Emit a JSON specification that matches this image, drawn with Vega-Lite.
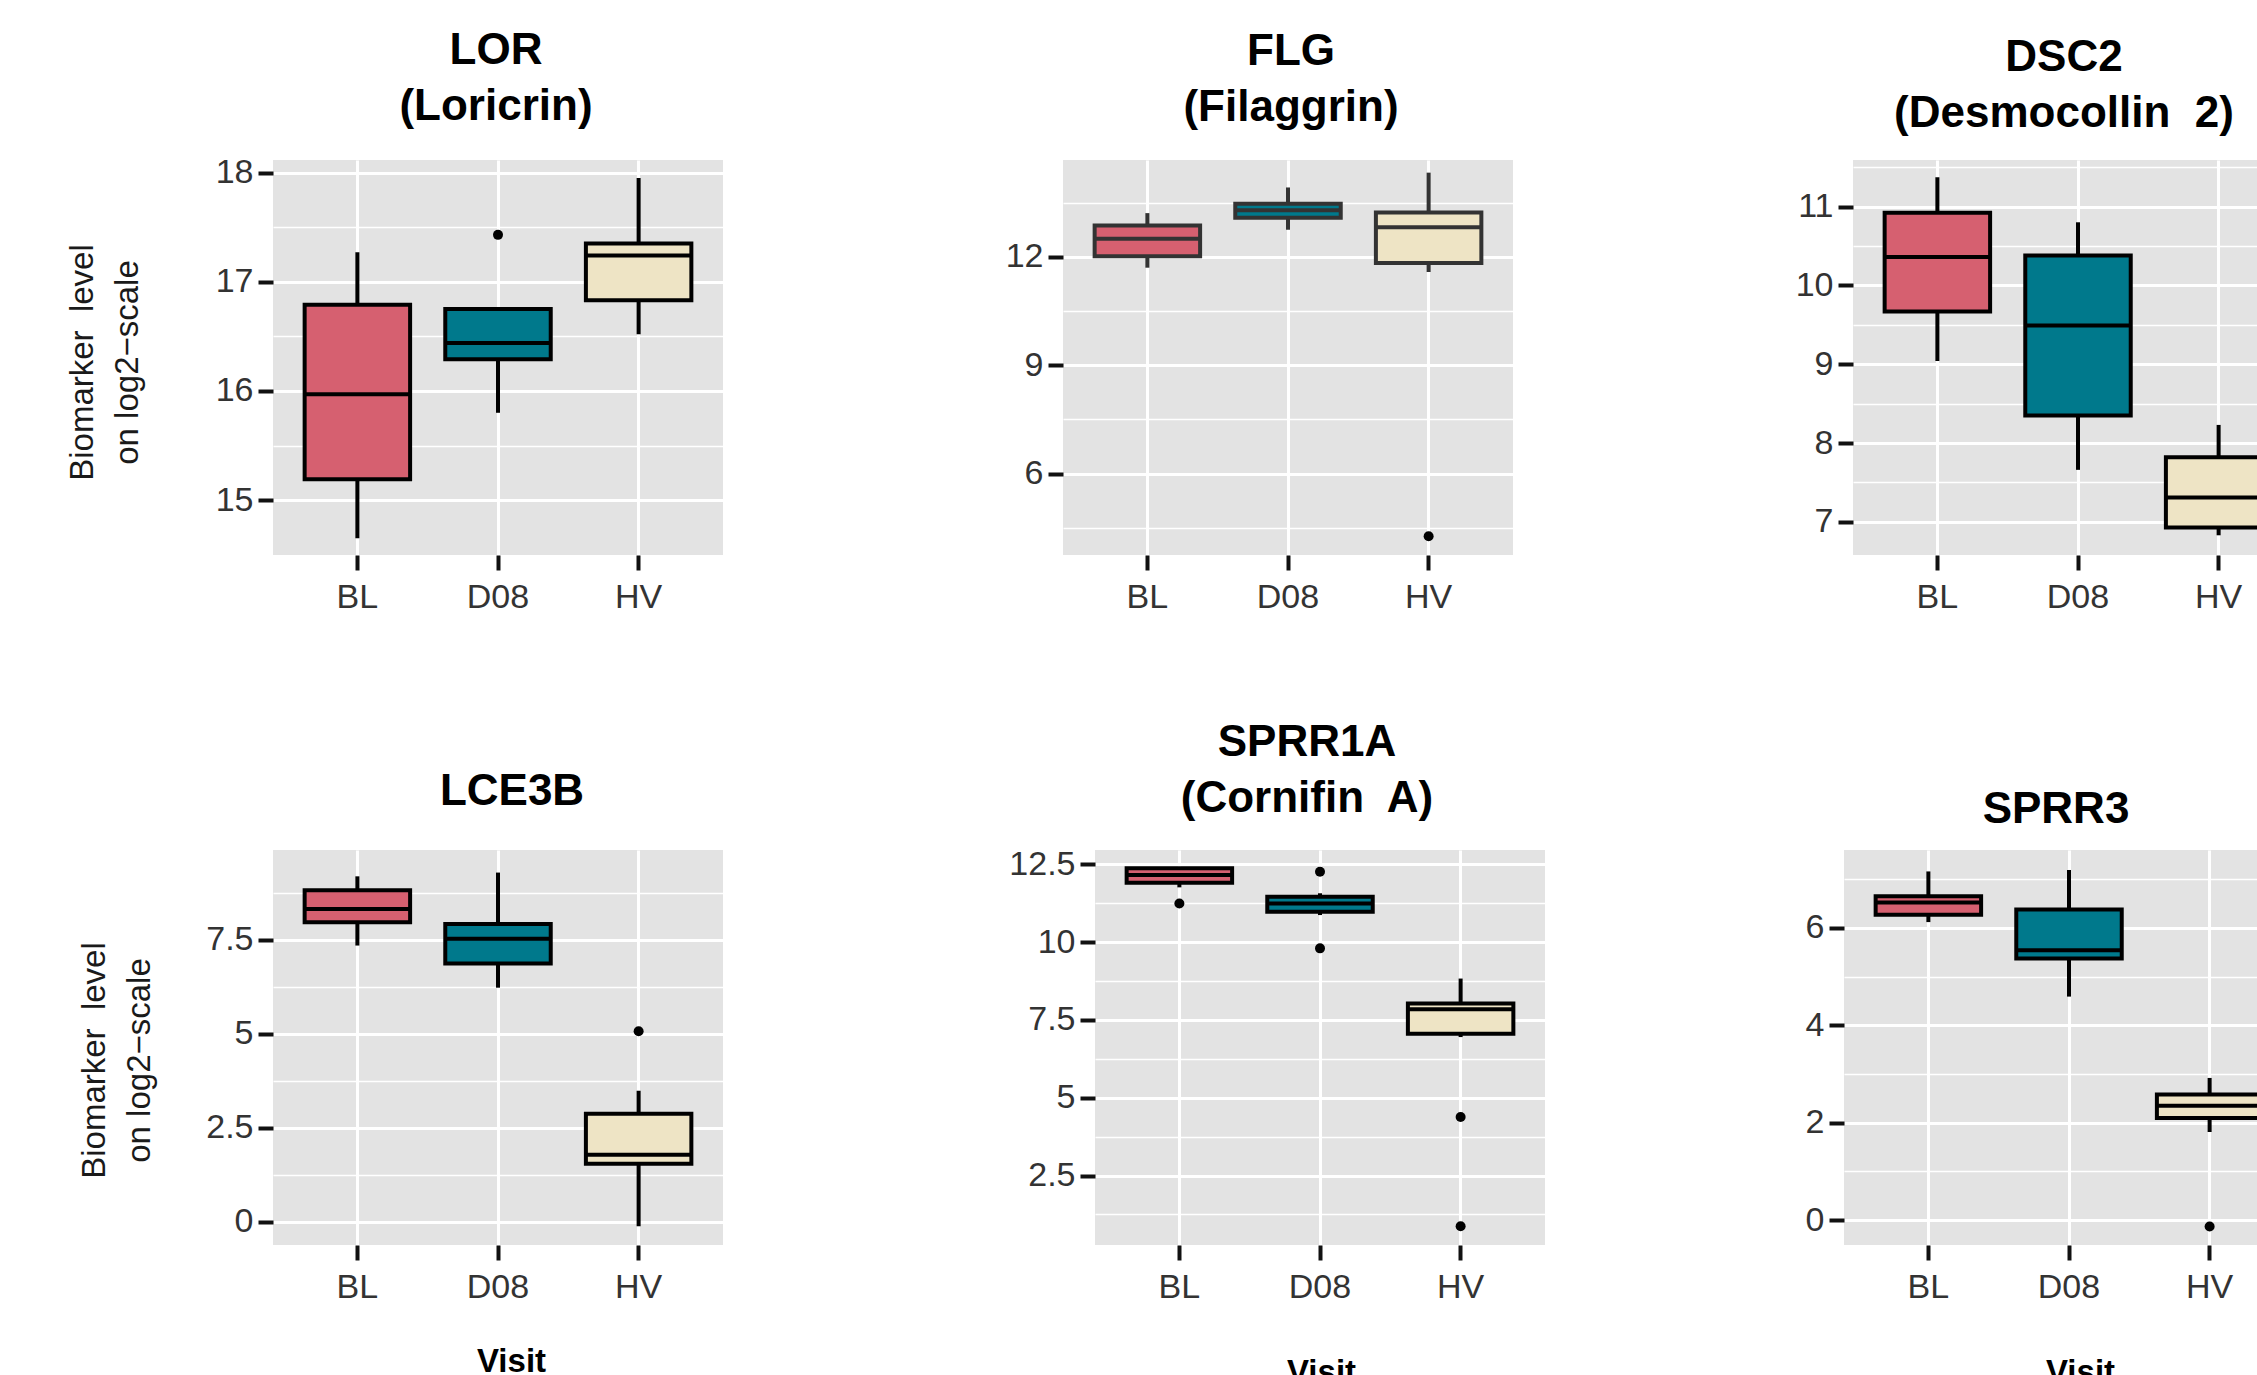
{
  "$schema": "https://vega.github.io/schema/vega-lite/v6.json",
  "background": "white",
  "padding": {"left": 65, "top": 28, "right": 0, "bottom": 0},
  "datasets": {
    "boxes": [
      {"panel": "LOR", "visit": "BL", "lower": 14.65, "q1": 15.19, "median": 15.97, "q3": 16.79, "upper": 17.27},
      {"panel": "LOR", "visit": "D08", "lower": 15.80, "q1": 16.29, "median": 16.44, "q3": 16.75, "upper": 16.75},
      {"panel": "LOR", "visit": "HV", "lower": 16.52, "q1": 16.83, "median": 17.24, "q3": 17.35, "upper": 17.95},
      {"panel": "FLG", "visit": "BL", "lower": 11.70, "q1": 12.02, "median": 12.50, "q3": 12.87, "upper": 13.21},
      {"panel": "FLG", "visit": "D08", "lower": 12.75, "q1": 13.08, "median": 13.29, "q3": 13.47, "upper": 13.92},
      {"panel": "FLG", "visit": "HV", "lower": 11.58, "q1": 11.83, "median": 12.82, "q3": 13.23, "upper": 14.33},
      {"panel": "DSC2", "visit": "BL", "lower": 9.04, "q1": 9.67, "median": 10.36, "q3": 10.92, "upper": 11.37},
      {"panel": "DSC2", "visit": "D08", "lower": 7.66, "q1": 8.35, "median": 9.49, "q3": 10.38, "upper": 10.80},
      {"panel": "DSC2", "visit": "HV", "lower": 6.83, "q1": 6.93, "median": 7.31, "q3": 7.82, "upper": 8.23},
      {"panel": "LCE3B", "visit": "BL", "lower": 7.34, "q1": 7.96, "median": 8.31, "q3": 8.81, "upper": 9.18},
      {"panel": "LCE3B", "visit": "D08", "lower": 6.22, "q1": 6.86, "median": 7.52, "q3": 7.91, "upper": 9.28},
      {"panel": "LCE3B", "visit": "HV", "lower": -0.12, "q1": 1.54, "median": 1.78, "q3": 2.87, "upper": 3.48},
      {"panel": "SPRR1A", "visit": "BL", "lower": 11.76, "q1": 11.91, "median": 12.16, "q3": 12.37, "upper": 12.37},
      {"panel": "SPRR1A", "visit": "D08", "lower": 10.87, "q1": 10.98, "median": 11.24, "q3": 11.46, "upper": 11.57},
      {"panel": "SPRR1A", "visit": "HV", "lower": 6.95, "q1": 7.06, "median": 7.84, "q3": 8.03, "upper": 8.83},
      {"panel": "SPRR3", "visit": "BL", "lower": 6.12, "q1": 6.27, "median": 6.52, "q3": 6.65, "upper": 7.16},
      {"panel": "SPRR3", "visit": "D08", "lower": 4.59, "q1": 5.37, "median": 5.54, "q3": 6.38, "upper": 7.19},
      {"panel": "SPRR3", "visit": "HV", "lower": 1.81, "q1": 2.10, "median": 2.35, "q3": 2.58, "upper": 2.92}
    ],
    "outliers": [
      {"panel": "LOR", "visit": "D08", "value": 17.43},
      {"panel": "FLG", "visit": "HV", "value": 4.27},
      {"panel": "LCE3B", "visit": "HV", "value": 5.06},
      {"panel": "SPRR1A", "visit": "BL", "value": 11.24},
      {"panel": "SPRR1A", "visit": "D08", "value": 12.26},
      {"panel": "SPRR1A", "visit": "D08", "value": 9.80},
      {"panel": "SPRR1A", "visit": "HV", "value": 4.38},
      {"panel": "SPRR1A", "visit": "HV", "value": 0.87},
      {"panel": "SPRR3", "visit": "HV", "value": -0.13}
    ]
  },
  "bounds": "flush",
  "spacing": 690,
  "vconcat": [
    {
      "bounds": "flush",
      "spacing": 340,
      "hconcat": [
        {
          "width": 450, "height": 395,
          "title": {"text": ["LOR", "(Loricrin)"], "offset": 27, "dx": -2},
          "layer": [
            {"data": {"name": "boxes"}, "transform": [{"filter": "datum.panel === 'LOR'"}],
             "mark": {"type": "rule", "strokeWidth": 4, "color": "#000000"},
             "encoding": {
               "x": {"field": "visit", "type": "nominal", "scale": {"domain": ["BL", "D08", "HV"], "paddingInner": 0, "paddingOuter": 0.1}, "axis": {"title": null, "bandPosition": 0.5}},
               "y": {"field": "lower", "type": "quantitative", "scale": {"domain": [14.497, 18.116], "zero": false, "nice": false},
                     "axis": {"values": [15, 15.5, 16, 16.5, 17, 17.5, 18],
                              "gridWidth": {"condition": {"test": "datum.value % 1 === 0", "value": 3}, "value": 1.5},
                              "tickOpacity": {"condition": {"test": "datum.value % 1 === 0", "value": 1}, "value": 0},
                              "labelExpr": "datum.value % 1 === 0 ? '' + datum.value : ''",
                              "title": ["Biomarker\u00a0 level", "on log2\u2212scale"], "titleX": -174, "titleY": 202,
                              "titleAngle": -90, "titleAlign": "center", "titleBaseline": "bottom", "titleLineHeight": 45}},
               "y2": {"field": "upper"}}},
            {"data": {"name": "boxes"}, "transform": [{"filter": "datum.panel === 'LOR'"}],
             "mark": {"type": "bar", "width": {"band": 0.75}, "stroke": "#000000", "strokeWidth": 4},
             "encoding": {
               "x": {"field": "visit", "type": "nominal"},
               "y": {"field": "q1", "type": "quantitative"}, "y2": {"field": "q3"},
               "fill": {"field": "visit", "type": "nominal", "scale": {"domain": ["BL", "D08", "HV"], "range": ["#D66070", "#00798C", "#EEE4C5"]}, "legend": null}}},
            {"data": {"name": "boxes"}, "transform": [{"filter": "datum.panel === 'LOR'"}],
             "mark": {"type": "tick", "orient": "horizontal", "size": 105.5, "thickness": 4, "color": "#000000", "opacity": 1},
             "encoding": {"x": {"field": "visit", "type": "nominal"}, "y": {"field": "median", "type": "quantitative"}}},
            {"data": {"name": "outliers"}, "transform": [{"filter": "datum.panel === 'LOR'"}],
             "mark": {"type": "point", "filled": true, "size": 100, "color": "#000000", "opacity": 1},
             "encoding": {"x": {"field": "visit", "type": "nominal"}, "y": {"field": "value", "type": "quantitative"}}}
          ]
        },
        {
          "width": 450, "height": 395,
          "title": {"text": ["FLG", "(Filaggrin)"], "offset": 30, "dx": 3},
          "layer": [
            {"data": {"name": "boxes"}, "transform": [{"filter": "datum.panel === 'FLG'"}],
             "mark": {"type": "rule", "strokeWidth": 4, "color": "#333333"},
             "encoding": {
               "x": {"field": "visit", "type": "nominal", "scale": {"domain": ["BL", "D08", "HV"], "paddingInner": 0, "paddingOuter": 0.1}, "axis": {"title": null, "bandPosition": 0.5}},
               "y": {"field": "lower", "type": "quantitative", "scale": {"domain": [3.75, 14.68], "zero": false, "nice": false},
                     "axis": {"values": [4.5, 6, 7.5, 9, 10.5, 12, 13.5],
                              "gridWidth": {"condition": {"test": "datum.value % 3 === 0", "value": 3}, "value": 1.5},
                              "tickOpacity": {"condition": {"test": "datum.value % 3 === 0", "value": 1}, "value": 0},
                              "labelExpr": "datum.value % 3 === 0 ? '' + datum.value : ''",
                              "title": null}},
               "y2": {"field": "upper"}}},
            {"data": {"name": "boxes"}, "transform": [{"filter": "datum.panel === 'FLG'"}],
             "mark": {"type": "bar", "width": {"band": 0.75}, "stroke": "#333333", "strokeWidth": 4},
             "encoding": {
               "x": {"field": "visit", "type": "nominal"},
               "y": {"field": "q1", "type": "quantitative"}, "y2": {"field": "q3"},
               "fill": {"field": "visit", "type": "nominal", "scale": {"domain": ["BL", "D08", "HV"], "range": ["#D66070", "#00798C", "#EEE4C5"]}, "legend": null}}},
            {"data": {"name": "boxes"}, "transform": [{"filter": "datum.panel === 'FLG'"}],
             "mark": {"type": "tick", "orient": "horizontal", "size": 105.5, "thickness": 4, "color": "#333333", "opacity": 1},
             "encoding": {"x": {"field": "visit", "type": "nominal"}, "y": {"field": "median", "type": "quantitative"}}},
            {"data": {"name": "outliers"}, "transform": [{"filter": "datum.panel === 'FLG'"}],
             "mark": {"type": "point", "filled": true, "size": 100, "color": "#000000", "opacity": 1},
             "encoding": {"x": {"field": "visit", "type": "nominal"}, "y": {"field": "value", "type": "quantitative"}}}
          ]
        },
        {
          "width": 450, "height": 395,
          "title": {"text": ["DSC2", "(Desmocollin\u00a0 2)"], "offset": 14, "dx": -14},
          "layer": [
            {"data": {"name": "boxes"}, "transform": [{"filter": "datum.panel === 'DSC2'"}],
             "mark": {"type": "rule", "strokeWidth": 4, "color": "#000000"},
             "encoding": {
               "x": {"field": "visit", "type": "nominal", "scale": {"domain": ["BL", "D08", "HV"], "paddingInner": 0, "paddingOuter": 0.1}, "axis": {"title": null, "bandPosition": 0.5}},
               "y": {"field": "lower", "type": "quantitative", "scale": {"domain": [6.58, 11.59], "zero": false, "nice": false},
                     "axis": {"values": [7, 7.5, 8, 8.5, 9, 9.5, 10, 10.5, 11, 11.5],
                              "gridWidth": {"condition": {"test": "datum.value % 1 === 0", "value": 3}, "value": 1.5},
                              "tickOpacity": {"condition": {"test": "datum.value % 1 === 0", "value": 1}, "value": 0},
                              "labelExpr": "datum.value % 1 === 0 ? '' + datum.value : ''",
                              "title": null}},
               "y2": {"field": "upper"}}},
            {"data": {"name": "boxes"}, "transform": [{"filter": "datum.panel === 'DSC2'"}],
             "mark": {"type": "bar", "width": {"band": 0.75}, "stroke": "#000000", "strokeWidth": 4},
             "encoding": {
               "x": {"field": "visit", "type": "nominal"},
               "y": {"field": "q1", "type": "quantitative"}, "y2": {"field": "q3"},
               "fill": {"field": "visit", "type": "nominal", "scale": {"domain": ["BL", "D08", "HV"], "range": ["#D66070", "#00798C", "#EEE4C5"]}, "legend": null}}},
            {"data": {"name": "boxes"}, "transform": [{"filter": "datum.panel === 'DSC2'"}],
             "mark": {"type": "tick", "orient": "horizontal", "size": 105.5, "thickness": 4, "color": "#000000", "opacity": 1},
             "encoding": {"x": {"field": "visit", "type": "nominal"}, "y": {"field": "median", "type": "quantitative"}}}
          ]
        }
      ]
    },
    {
      "bounds": "flush",
      "spacing": 372,
      "hconcat": [
        {
          "width": 450, "height": 395,
          "title": {"text": "LCE3B", "offset": 36, "dx": 14},
          "layer": [
            {"data": {"name": "boxes"}, "transform": [{"filter": "datum.panel === 'LCE3B'"}],
             "mark": {"type": "rule", "strokeWidth": 4, "color": "#000000"},
             "encoding": {
               "x": {"field": "visit", "type": "nominal", "scale": {"domain": ["BL", "D08", "HV"], "paddingInner": 0, "paddingOuter": 0.1},
                     "axis": {"title": "Visit", "bandPosition": 0.5, "titleX": 238, "titleY": 100, "titleAlign": "center", "titleBaseline": "top"}},
               "y": {"field": "lower", "type": "quantitative", "scale": {"domain": [-0.62, 9.88], "zero": false, "nice": false},
                     "axis": {"values": [0, 1.25, 2.5, 3.75, 5, 6.25, 7.5, 8.75],
                              "gridWidth": {"condition": {"test": "datum.value % 2.5 === 0", "value": 3}, "value": 1.5},
                              "tickOpacity": {"condition": {"test": "datum.value % 2.5 === 0", "value": 1}, "value": 0},
                              "labelExpr": "datum.value % 2.5 === 0 ? '' + datum.value : ''",
                              "title": ["Biomarker\u00a0 level", "on log2\u2212scale"], "titleX": -162, "titleY": 210,
                              "titleAngle": -90, "titleAlign": "center", "titleBaseline": "bottom", "titleLineHeight": 45}},
               "y2": {"field": "upper"}}},
            {"data": {"name": "boxes"}, "transform": [{"filter": "datum.panel === 'LCE3B'"}],
             "mark": {"type": "bar", "width": {"band": 0.75}, "stroke": "#000000", "strokeWidth": 4},
             "encoding": {
               "x": {"field": "visit", "type": "nominal"},
               "y": {"field": "q1", "type": "quantitative"}, "y2": {"field": "q3"},
               "fill": {"field": "visit", "type": "nominal", "scale": {"domain": ["BL", "D08", "HV"], "range": ["#D66070", "#00798C", "#EEE4C5"]}, "legend": null}}},
            {"data": {"name": "boxes"}, "transform": [{"filter": "datum.panel === 'LCE3B'"}],
             "mark": {"type": "tick", "orient": "horizontal", "size": 105.5, "thickness": 4, "color": "#000000", "opacity": 1},
             "encoding": {"x": {"field": "visit", "type": "nominal"}, "y": {"field": "median", "type": "quantitative"}}},
            {"data": {"name": "outliers"}, "transform": [{"filter": "datum.panel === 'LCE3B'"}],
             "mark": {"type": "point", "filled": true, "size": 100, "color": "#000000", "opacity": 1},
             "encoding": {"x": {"field": "visit", "type": "nominal"}, "y": {"field": "value", "type": "quantitative"}}}
          ]
        },
        {
          "bounds": "flush",
          "spacing": 299,
          "hconcat": [
            {
              "width": 450, "height": 395,
              "title": {"text": ["SPRR1A", "(Cornifin\u00a0 A)"], "offset": 26, "dx": -13},
              "layer": [
                {"data": {"name": "boxes"}, "transform": [{"filter": "datum.panel === 'SPRR1A'"}],
                 "mark": {"type": "rule", "strokeWidth": 4, "color": "#000000"},
                 "encoding": {
                   "x": {"field": "visit", "type": "nominal", "scale": {"domain": ["BL", "D08", "HV"], "paddingInner": 0, "paddingOuter": 0.1},
                         "axis": {"title": "Visit", "bandPosition": 0.5, "titleX": 226, "titleY": 111, "titleAlign": "center", "titleBaseline": "top"}},
                   "y": {"field": "lower", "type": "quantitative", "scale": {"domain": [0.27, 12.96], "zero": false, "nice": false},
                         "axis": {"values": [1.25, 2.5, 3.75, 5, 6.25, 7.5, 8.75, 10, 11.25, 12.5],
                                  "gridWidth": {"condition": {"test": "datum.value % 2.5 === 0", "value": 3}, "value": 1.5},
                                  "tickOpacity": {"condition": {"test": "datum.value % 2.5 === 0", "value": 1}, "value": 0},
                                  "labelExpr": "datum.value % 2.5 === 0 ? '' + datum.value : ''",
                                  "title": null}},
                   "y2": {"field": "upper"}}},
                {"data": {"name": "boxes"}, "transform": [{"filter": "datum.panel === 'SPRR1A'"}],
                 "mark": {"type": "bar", "width": {"band": 0.75}, "stroke": "#000000", "strokeWidth": 4},
                 "encoding": {
                   "x": {"field": "visit", "type": "nominal"},
                   "y": {"field": "q1", "type": "quantitative"}, "y2": {"field": "q3"},
                   "fill": {"field": "visit", "type": "nominal", "scale": {"domain": ["BL", "D08", "HV"], "range": ["#D66070", "#00798C", "#EEE4C5"]}, "legend": null}}},
                {"data": {"name": "boxes"}, "transform": [{"filter": "datum.panel === 'SPRR1A'"}],
                 "mark": {"type": "tick", "orient": "horizontal", "size": 105.5, "thickness": 4, "color": "#000000", "opacity": 1},
                 "encoding": {"x": {"field": "visit", "type": "nominal"}, "y": {"field": "median", "type": "quantitative"}}},
                {"data": {"name": "outliers"}, "transform": [{"filter": "datum.panel === 'SPRR1A'"}],
                 "mark": {"type": "point", "filled": true, "size": 100, "color": "#000000", "opacity": 1},
                 "encoding": {"x": {"field": "visit", "type": "nominal"}, "y": {"field": "value", "type": "quantitative"}}}
              ]
            },
            {
              "width": 450, "height": 395,
              "title": {"text": "SPRR3", "offset": 18, "dx": -13},
              "layer": [
                {"data": {"name": "boxes"}, "transform": [{"filter": "datum.panel === 'SPRR3'"}],
                 "mark": {"type": "rule", "strokeWidth": 4, "color": "#000000"},
                 "encoding": {
                   "x": {"field": "visit", "type": "nominal", "scale": {"domain": ["BL", "D08", "HV"], "paddingInner": 0, "paddingOuter": 0.1},
                         "axis": {"title": "Visit", "bandPosition": 0.5, "titleX": 236, "titleY": 111, "titleAlign": "center", "titleBaseline": "top"}},
                   "y": {"field": "lower", "type": "quantitative", "scale": {"domain": [-0.51, 7.6], "zero": false, "nice": false},
                         "axis": {"values": [0, 1, 2, 3, 4, 5, 6, 7],
                                  "gridWidth": {"condition": {"test": "datum.value % 2 === 0", "value": 3}, "value": 1.5},
                                  "tickOpacity": {"condition": {"test": "datum.value % 2 === 0", "value": 1}, "value": 0},
                                  "labelExpr": "datum.value % 2 === 0 ? '' + datum.value : ''",
                                  "title": null}},
                   "y2": {"field": "upper"}}},
                {"data": {"name": "boxes"}, "transform": [{"filter": "datum.panel === 'SPRR3'"}],
                 "mark": {"type": "bar", "width": {"band": 0.75}, "stroke": "#000000", "strokeWidth": 4},
                 "encoding": {
                   "x": {"field": "visit", "type": "nominal"},
                   "y": {"field": "q1", "type": "quantitative"}, "y2": {"field": "q3"},
                   "fill": {"field": "visit", "type": "nominal", "scale": {"domain": ["BL", "D08", "HV"], "range": ["#D66070", "#00798C", "#EEE4C5"]}, "legend": null}}},
                {"data": {"name": "boxes"}, "transform": [{"filter": "datum.panel === 'SPRR3'"}],
                 "mark": {"type": "tick", "orient": "horizontal", "size": 105.5, "thickness": 4, "color": "#000000", "opacity": 1},
                 "encoding": {"x": {"field": "visit", "type": "nominal"}, "y": {"field": "median", "type": "quantitative"}}},
                {"data": {"name": "outliers"}, "transform": [{"filter": "datum.panel === 'SPRR3'"}],
                 "mark": {"type": "point", "filled": true, "size": 100, "color": "#000000", "opacity": 1},
                 "encoding": {"x": {"field": "visit", "type": "nominal"}, "y": {"field": "value", "type": "quantitative"}}}
              ]
            }
          ]
        }
      ]
    }
  ],
  "config": {
    "font": "Liberation Sans",
    "view": {"fill": "#E3E3E3", "stroke": null},
    "title": {"fontSize": 44, "fontWeight": "bold", "color": "#000000", "lineHeight": 56, "anchor": "middle", "frame": "group", "font": "Liberation Sans"},
    "axis": {"domain": false, "grid": true, "gridColor": "#FFFFFF", "tickColor": "#111111", "tickWidth": 4, "tickSize": 15,
             "labelFont": "Liberation Sans", "labelFontSize": 34, "labelColor": "#333333",
             "titleFont": "Liberation Sans", "titleFontSize": 33, "titleColor": "#1A1A1A", "titleFontWeight": "normal"},
    "axisX": {"labelPadding": 10, "labelAngle": 0, "gridWidth": 3, "titleFontWeight": "bold", "titleColor": "#000000"},
    "axisY": {"labelPadding": 5, "labelOverlap": false, "labelFlush": false}
  }
}
